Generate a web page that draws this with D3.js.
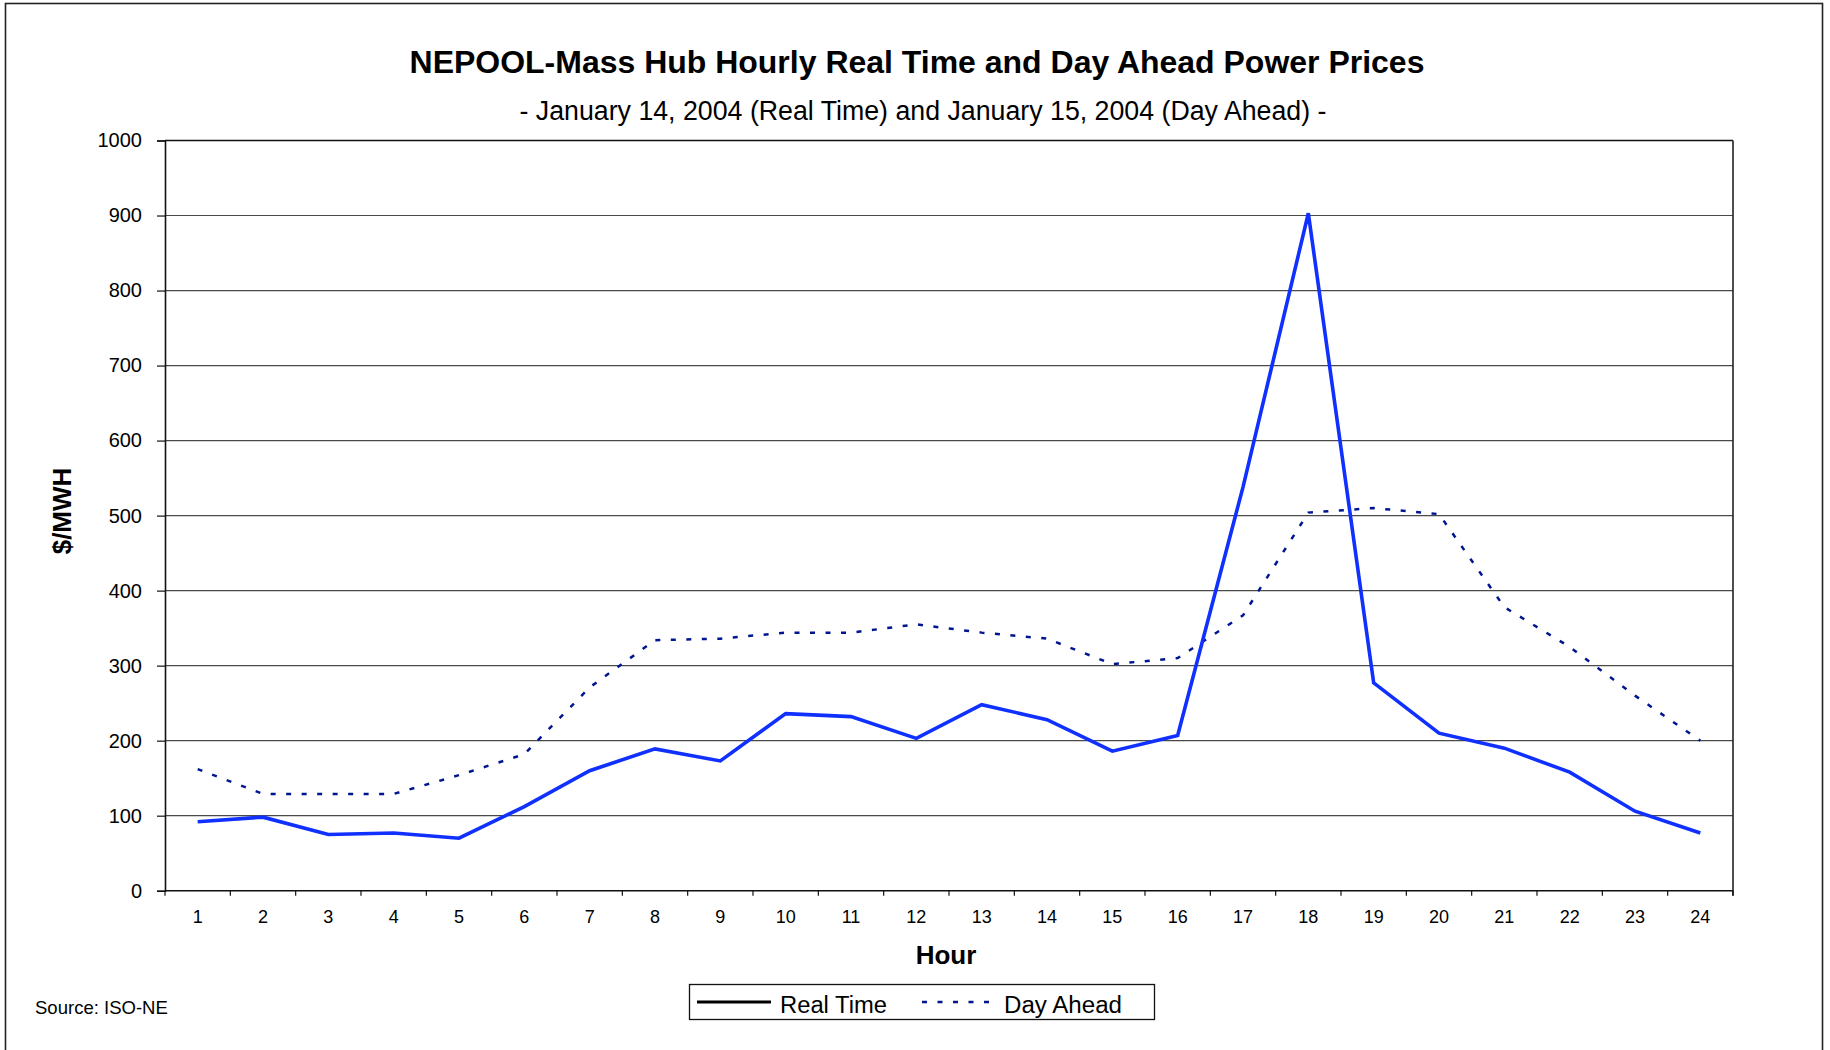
<!DOCTYPE html>
<html>
<head>
<meta charset="utf-8">
<script src="https://cdn.jsdelivr.net/npm/d3@7"></script>
<style>
  html, body { margin: 0; padding: 0; background: #fff; }
  svg { display: block; }
  text { font-family: "Liberation Sans", Arial, Helvetica, sans-serif; }
</style>
</head>
<body>
<svg id="chart" width="1830" height="1050"></svg>
<script>
// ---- data ----
const hours = [1,2,3,4,5,6,7,8,9,10,11,12,13,14,15,16,17,18,19,20,21,22,23,24];
const realTime = [92,98,75,77,70,112,160,189,173,236,232,203,248,228,186,207,538,903,277,210,190,158,106,77];
const dayAhead = [162,129,129,129,154,182,271,334,336,344,344,355,344,336,302,310,367,504,510,502,378,325,260,200];
const yTicks = [0,100,200,300,400,500,600,700,800,900,1000];
const titleText = "NEPOOL-Mass Hub Hourly Real Time and Day Ahead Power Prices";
const subtitleText = "- January 14, 2004 (Real Time) and January 15, 2004 (Day Ahead) -";
const seriesNames = ["Real Time", "Day Ahead"];

// ---- layout ----
const svg = d3.select("#chart");
const plot = { left: 165, right: 1733, top: 140.5, bottom: 890.7 };

function fitText(sel, target) {
  const base = parseFloat(sel.attr("font-size"));
  const len = sel.node().getComputedTextLength();
  sel.attr("font-size", (base * target / len).toFixed(2));
}

svg.append("rect").attr("width", 1830).attr("height", 1050).attr("fill", "#fff");
// outer chart frame
svg.append("rect")
  .attr("x", 5.5).attr("y", 3.5).attr("width", 1817).attr("height", 1100)
  .attr("fill", "none").attr("stroke", "#222").attr("stroke-width", 1.6);

const x = d3.scaleBand().domain(hours).range([plot.left, plot.right]).padding(0);
const y = d3.scaleLinear().domain([0, 1000]).range([plot.bottom, plot.top]);

// gridlines
svg.append("g").selectAll("line").data(yTicks.filter(d => d > 0)).join("line")
  .attr("x1", plot.left).attr("x2", plot.right)
  .attr("y1", d => y(d)).attr("y2", d => y(d))
  .attr("stroke", d => d === 1000 ? "#111" : "#4a4a4a").attr("stroke-width", d => d === 1000 ? 1.6 : 1.2);

// right border of plot
svg.append("line").attr("x1", plot.right).attr("x2", plot.right)
  .attr("y1", plot.top).attr("y2", plot.bottom + 5)
  .attr("stroke", "#222").attr("stroke-width", 1.6);

// y axis
const yAxis = svg.append("g").attr("transform", `translate(${plot.left},0)`)
  .call(d3.axisLeft(y).tickValues(yTicks).tickSize(8).tickPadding(15).tickFormat(d3.format("d")));
yAxis.select(".domain").attr("stroke", "#111").attr("stroke-width", 1.6);
yAxis.selectAll(".tick line").attr("stroke", "#111").attr("stroke-width", 1.2);
yAxis.selectAll(".tick text").attr("font-size", 20).attr("fill", "#000")
  .attr("font-family", "'Liberation Sans', Arial, sans-serif");

// x axis: ticks at category boundaries, labels at centers
const xAxis = svg.append("g").attr("transform", `translate(0,${plot.bottom})`);
xAxis.append("line").attr("x1", plot.left).attr("x2", plot.right)
  .attr("stroke", "#111").attr("stroke-width", 1.6);
const boundaries = hours.map(h => x(h)).concat([x(hours[hours.length - 1]) + x.bandwidth()]);
xAxis.selectAll("line.tk").data(boundaries).join("line").attr("class", "tk")
  .attr("x1", d => d).attr("x2", d => d).attr("y1", 0).attr("y2", 5)
  .attr("stroke", "#111").attr("stroke-width", 1.2);
xAxis.selectAll("text").data(hours).join("text")
  .attr("x", d => x(d) + x.bandwidth() / 2).attr("y", 32)
  .attr("text-anchor", "middle").attr("font-size", 18).attr("fill", "#000")
  .text(d => d);

// axis titles
svg.append("text").attr("x", 946).attr("y", 964).attr("text-anchor", "middle")
  .attr("font-size", 26).attr("font-weight", "bold").text("Hour");
svg.append("text").attr("transform", "translate(71,511) rotate(-90)").attr("text-anchor", "middle")
  .attr("font-size", 26).attr("font-weight", "bold").text("$/MWH");

// titles
const t1 = svg.append("text").attr("x", 917).attr("y", 73).attr("text-anchor", "middle")
  .attr("font-size", 32).attr("font-weight", "bold").text(titleText);
fitText(t1, 1015);
const t2 = svg.append("text").attr("x", 923).attr("y", 120).attr("text-anchor", "middle")
  .attr("font-size", 23).text(subtitleText);
fitText(t2, 807);

// lines
const cx = d => x(d) + x.bandwidth() / 2;
const line = d3.line().x(d => cx(d[0])).y(d => y(d[1]));

svg.append("path").datum(hours.map((h, i) => [h, dayAhead[i]]))
  .attr("d", line).attr("fill", "none")
  .attr("stroke", "#001591").attr("stroke-width", 2.5)
  .attr("stroke-dasharray", "5,10.5");

svg.append("path").datum(hours.map((h, i) => [h, realTime[i]]))
  .attr("d", line).attr("fill", "none")
  .attr("stroke", "#1030ff").attr("stroke-width", 3.6).attr("stroke-linejoin", "miter");

// legend
const lg = svg.append("g");
lg.append("rect").attr("x", 689.5).attr("y", 984.5).attr("width", 465).attr("height", 35)
  .attr("fill", "#fff").attr("stroke", "#111").attr("stroke-width", 1.3);
lg.append("line").attr("x1", 697).attr("x2", 771).attr("y1", 1002).attr("y2", 1002)
  .attr("stroke", "#000").attr("stroke-width", 3);
const l1 = lg.append("text").attr("x", 780).attr("y", 1013).attr("font-size", 23.5).text(seriesNames[0]);
fitText(l1, 107);
lg.append("line").attr("x1", 922).attr("x2", 992).attr("y1", 1002).attr("y2", 1002)
  .attr("stroke", "#001591").attr("stroke-width", 2.5).attr("stroke-dasharray", "5,10.5");
const l2 = lg.append("text").attr("x", 1004).attr("y", 1013).attr("font-size", 23.5).text(seriesNames[1]);
fitText(l2, 118);

// source
const src = svg.append("text").attr("x", 35).attr("y", 1014).attr("font-size", 18.5).text("Source: ISO-NE");
fitText(src, 133);
</script>
</body>
</html>
